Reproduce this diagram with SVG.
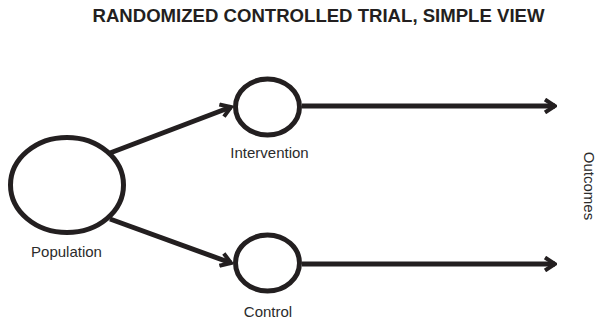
<svg xmlns="http://www.w3.org/2000/svg" width="601" height="325" viewBox="0 0 601 325">
  <style>
    .node { fill: none; stroke: #231f20; stroke-width: 5; }
    .edge { fill: none; stroke: #231f20; stroke-width: 5; }
    .label { font-family: "Liberation Sans", Arial, sans-serif; font-size: 15px; fill: #2b2b2b; }
    .title { font-family: "Liberation Sans", Arial, sans-serif; font-size: 19px; font-weight: bold; fill: #231f20; }
  </style>
  <defs>
    <marker id="chevron" markerUnits="userSpaceOnUse" viewBox="0 0 14 16" markerWidth="14" markerHeight="16" refX="12" refY="8" orient="auto">
      <path d="M2,1.5 L12,8 L2,14.5" fill="none" stroke="#231f20" stroke-width="4" stroke-linejoin="miter"/>
    </marker>
  </defs>

  <text class="title" x="318.5" y="22" text-anchor="middle" textLength="452" lengthAdjust="spacingAndGlyphs">RANDOMIZED CONTROLLED TRIAL, SIMPLE VIEW</text>

  <g id="connectors">
    <line class="edge" x1="110" y1="153" x2="231" y2="107" marker-end="url(#chevron)"/>
    <line class="edge" x1="110" y1="219" x2="231" y2="263" marker-end="url(#chevron)"/>
    <line class="edge" x1="302" y1="106" x2="555" y2="106" marker-end="url(#chevron)"/>
    <line class="edge" x1="302" y1="264" x2="555" y2="264" marker-end="url(#chevron)"/>
  </g>

  <g id="population">
    <ellipse class="node" cx="67" cy="185" rx="56.5" ry="47.5"/>
    <text class="label" x="66.5" y="256.5" text-anchor="middle">Population</text>
  </g>

  <g id="intervention">
    <ellipse class="node" cx="267.5" cy="107" rx="32" ry="28"/>
    <text class="label" x="269.5" y="158" text-anchor="middle">Intervention</text>
  </g>

  <g id="control">
    <ellipse class="node" cx="267.5" cy="263" rx="32" ry="28"/>
    <text class="label" x="268" y="317" text-anchor="middle">Control</text>
  </g>

  <g id="outcomes">
    <text class="label" transform="translate(583.5,186) rotate(90)" x="0" y="0" text-anchor="middle">Outcomes</text>
  </g>
</svg>
